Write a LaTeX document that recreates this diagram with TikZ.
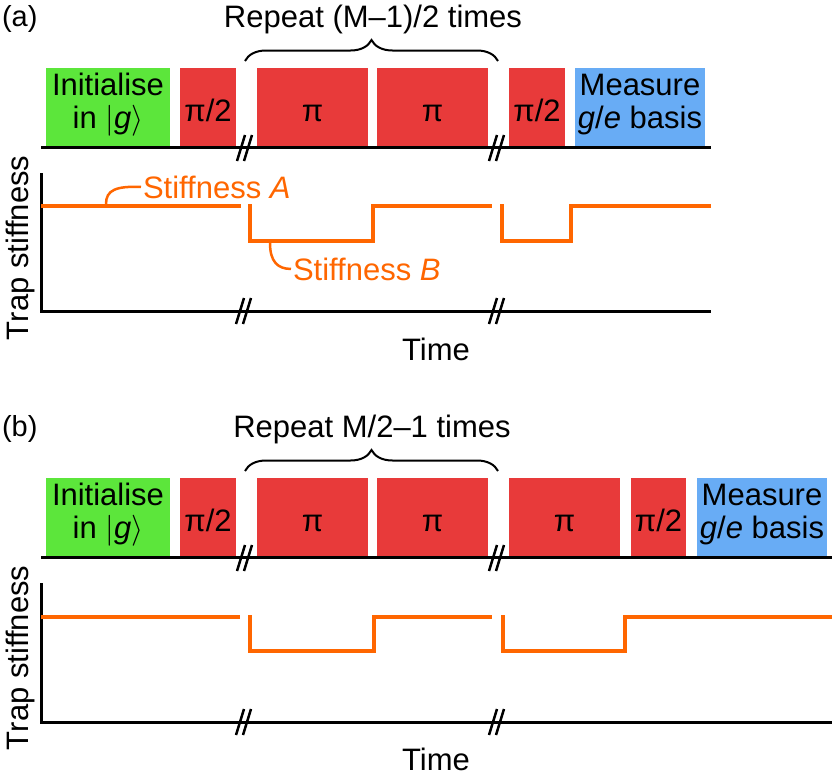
\RequirePackage{fix-cm}
\documentclass[tikz,border=0pt]{standalone}
\usepackage{fontspec}
\setmainfont{Liberation Sans}
\usetikzlibrary{decorations.pathreplacing}
\definecolor{pgreen}{RGB}{92,230,59}
\definecolor{pred}{RGB}{232,58,58}
\definecolor{pblue}{RGB}{104,172,245}
\definecolor{porange}{RGB}{255,102,0}
\tikzset{
 pbox/.style={draw=none, inner sep=0pt, outer sep=0pt, anchor=south west, minimum height=78pt},
 lbl/.style={inner sep=0pt, outer sep=0pt, font=\fontsize{31}{33}\selectfont, anchor=base},
 two/.style={inner sep=0pt, outer sep=0pt, font=\fontsize{31}{33}\selectfont, align=center, anchor=base},
 plbl/.style={inner sep=0pt, outer sep=0pt, font=\fontsize{29}{30}\selectfont, anchor=base west},
 slbl/.style={inner sep=2pt, outer sep=0pt, font=\fontsize{31}{33}\selectfont, text=porange, anchor=base west},
 ax/.style={line width=3pt},
 stiff/.style={draw=porange, line width=4pt, line join=miter},
 brk/.style={line width=2.5pt},
 lead/.style={draw=porange, line width=2.5pt},
 brc/.style={line width=2pt, decorate, decoration={brace, amplitude=21pt}},
}
\newcommand\axbreak[1]{\draw[brk, shift={(#1)}] (-8,13) -- (0,-13) (-1,13) -- (7,-13);}
\begin{document}
\begin{tikzpicture}[x=1pt,y=-1pt]
\useasboundingbox (0,0) rectangle (832,780);
% ================= panel (a)
\node[plbl] (a-tag) at (2,26) {(a)};
\node[lbl] (a-rep) at (373,27) {Repeat (M–1)/2 times};
\coordinate (a-bl) at (245,61);
\coordinate (a-br) at (498,61);
\draw[brc] (a-bl) -- (a-br);
\node[pbox, fill=pgreen, minimum width=124pt] (a-init) at (46,146) {};
\node[pbox, fill=pred, minimum width=56pt] (a-h1) at (180,146) {};
\node[pbox, fill=pred, minimum width=111pt] (a-pi1) at (257,146) {};
\node[pbox, fill=pred, minimum width=111pt] (a-pi2) at (377,146) {};
\node[pbox, fill=pred, minimum width=56pt] (a-h2) at (509,146) {};
\node[pbox, fill=pblue, minimum width=130pt] (a-meas) at (575,146) {};
\node[two] (a-init-t) at (108,128) {Initialise\\in $\vert$\textit{g}$\rangle$};
\node[lbl] (a-h1-t) at (208,121) {π/2};
\node[lbl] (a-pi1-t) at (312.5,121) {π};
\node[lbl] (a-pi2-t) at (432.5,121) {π};
\node[lbl] (a-h2-t) at (537,121) {π/2};
\node[two] (a-meas-t) at (640,128) {Measure\\\textit{g}/\textit{e} basis};
\coordinate (a-ul) at (41,147);
\coordinate (a-ur) at (711,147);
\draw[ax] (a-ul) -- (a-ur);
\axbreak{245,148}
\axbreak{497,148}
\coordinate (a-yt) at (41,173);
\coordinate (a-o) at (41,311);
\coordinate (a-xr) at (711,311);
\draw[ax] (a-yt) -- (a-o) -- (a-xr);
\axbreak{244,311}
\axbreak{497,311}
\node[lbl, rotate=90, anchor=base west] (a-ylab) at (28,340) {Trap stiffness};
\node[lbl] (a-xlab) at (436,360) {Time};
\draw[stiff] (41,206) -- (241,206);
\draw[stiff] (250,204) -- (250,241) -- (373,241) -- (373,206) -- (492,206);
\draw[stiff] (502,204) -- (502,241) -- (571,241) -- (571,206) -- (711,206);
\node[slbl] (a-sA) at (141,198) {Stiffness \textit{A}};
\node[slbl] (a-sB) at (291,280) {Stiffness \textit{B}};
\coordinate (a-pA) at (106,204);
\coordinate (a-pB) at (270,243);
\draw[lead] (a-pA) .. controls (106,190) and (116,186) .. (a-sA.west);
\draw[lead] (a-pB) .. controls (270,262) and (278,269) .. (a-sB.west);
% ================= panel (b)
\node[plbl] (b-tag) at (2,436) {(b)};
\node[lbl] (b-rep) at (372,437) {Repeat M/2–1 times};
\coordinate (b-bl) at (245,471);
\coordinate (b-br) at (498,471);
\draw[brc] (b-bl) -- (b-br);
\node[pbox, fill=pgreen, minimum width=124pt] (b-init) at (46,556) {};
\node[pbox, fill=pred, minimum width=56pt] (b-h1) at (180,556) {};
\node[pbox, fill=pred, minimum width=111pt] (b-pi1) at (257,556) {};
\node[pbox, fill=pred, minimum width=111pt] (b-pi2) at (377,556) {};
\node[pbox, fill=pred, minimum width=111pt] (b-pi3) at (509,556) {};
\node[pbox, fill=pred, minimum width=55pt] (b-h2) at (631,556) {};
\node[pbox, fill=pblue, minimum width=130pt] (b-meas) at (697,556) {};
\node[two] (b-init-t) at (108,538) {Initialise\\in $\vert$\textit{g}$\rangle$};
\node[lbl] (b-h1-t) at (208,531) {π/2};
\node[lbl] (b-pi1-t) at (312.5,531) {π};
\node[lbl] (b-pi2-t) at (432.5,531) {π};
\node[lbl] (b-pi3-t) at (564.5,531) {π};
\node[lbl] (b-h2-t) at (658.5,531) {π/2};
\node[two] (b-meas-t) at (762,538) {Measure\\\textit{g}/\textit{e} basis};
\coordinate (b-ul) at (41,557);
\coordinate (b-ur) at (832,557);
\draw[ax] (b-ul) -- (b-ur);
\axbreak{245,558}
\axbreak{497,558}
\coordinate (b-yt) at (41,583);
\coordinate (b-o) at (41,722);
\coordinate (b-xr) at (832,722);
\draw[ax] (b-yt) -- (b-o) -- (b-xr);
\axbreak{244,722}
\axbreak{497,722}
\node[lbl, rotate=90, anchor=base west] (b-ylab) at (28,750) {Trap stiffness};
\node[lbl] (b-xlab) at (436,770) {Time};
\draw[stiff] (41,617) -- (240,617);
\draw[stiff] (250,615) -- (250,651) -- (374,651) -- (374,617) -- (492,617);
\draw[stiff] (503,615) -- (503,651) -- (625,651) -- (625,617) -- (832,617);
\end{tikzpicture}
\end{document}
